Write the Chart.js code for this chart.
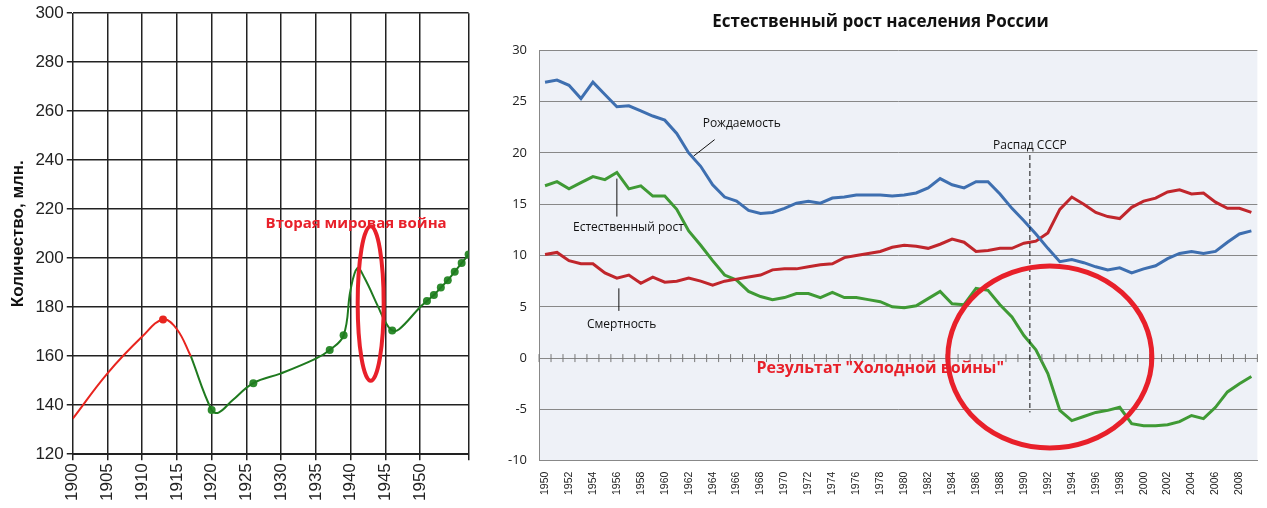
<!DOCTYPE html>
<html><head><meta charset="utf-8">
<script src="https://cdn.jsdelivr.net/npm/chart.js@4"></script>
<style>
body{margin:0;background:#fff;width:1267px;height:508px;overflow:hidden;position:relative;font-family:"Liberation Sans",Arial,sans-serif}
#popChart{position:absolute;left:0;top:0}
#growthChart{position:absolute;left:492px;top:0}
</style></head><body>
<canvas id="popChart" width="492" height="508"></canvas>
<canvas id="growthChart" width="775" height="508"></canvas>
<script>
// left chart: population, millions
const popRedYears = [1900, 1905, 1910, 1913, 1915, 1917];
const popRedValues = [134.5, 153, 168, 175, 171, 160];
const popGreenYears = [1917, 1920, 1921, 1923, 1926, 1930, 1935, 1937, 1939, 1940, 1941, 1942, 1944, 1945, 1946, 1947, 1950, 1951, 1952, 1953, 1954, 1955, 1956, 1957];
const popGreenValues = [160, 138, 137, 142, 149, 153, 159, 162.5, 168.5, 187, 196, 192, 180, 174, 170.5, 171, 180, 182.5, 185, 188, 191, 194.5, 198, 201.5];
const popRedDots = [1913];
const popGreenDots = [1920, 1926, 1937, 1939, 1946, 1951, 1952, 1953, 1954, 1955, 1956, 1957];

// right chart: natural growth of Russia, per 1000
const years = [];
for (let y = 1950; y <= 2009; y++) years.push(String(y));
const birthRate = [26.9, 27.1, 26.6, 25.3, 26.9, 25.7, 24.5, 24.6, 24.1, 23.6, 23.2, 21.9, 20.0, 18.7, 16.9, 15.7, 15.3, 14.4, 14.1, 14.2,
  14.6, 15.1, 15.3, 15.1, 15.6, 15.7, 15.9, 15.9, 15.9, 15.8, 15.9, 16.1, 16.6, 17.5, 16.9, 16.6, 17.2, 17.2, 16.0, 14.6,
  13.4, 12.1, 10.7, 9.4, 9.6, 9.3, 8.9, 8.6, 8.8, 8.3, 8.7, 9.0, 9.7, 10.2, 10.4, 10.2, 10.4, 11.3, 12.1, 12.4];
const deathRate = [10.1, 10.3, 9.5, 9.2, 9.2, 8.3, 7.8, 8.1, 7.3, 7.9, 7.4, 7.5, 7.8, 7.5, 7.1, 7.5, 7.7, 7.9, 8.1, 8.6,
  8.7, 8.7, 8.9, 9.1, 9.2, 9.8, 10.0, 10.2, 10.4, 10.8, 11.0, 10.9, 10.7, 11.1, 11.6, 11.3, 10.4, 10.5, 10.7, 10.7,
  11.2, 11.4, 12.2, 14.5, 15.7, 15.0, 14.2, 13.8, 13.6, 14.7, 15.3, 15.6, 16.2, 16.4, 16.0, 16.1, 15.2, 14.6, 14.6, 14.2];
const naturalGrowth = [16.8, 17.2, 16.5, 17.1, 17.7, 17.4, 18.1, 16.5, 16.8, 15.8, 15.8, 14.5, 12.4, 11.0, 9.5, 8.1, 7.6, 6.5, 6.0, 5.7,
  5.9, 6.3, 6.3, 5.9, 6.4, 5.9, 5.9, 5.7, 5.5, 5.0, 4.9, 5.1, 5.8, 6.5, 5.3, 5.2, 6.8, 6.6, 5.2, 4.0,
  2.2, 0.8, -1.5, -5.1, -6.1, -5.7, -5.3, -5.1, -4.8, -6.4, -6.6, -6.6, -6.5, -6.2, -5.6, -5.9, -4.8, -3.3, -2.5, -1.8];

const RED = '#e8202a';

const toXY = (xs, ys) => xs.map((x, i) => ({ x: x, y: ys[i] }));
const dotsFrom = (dots) => dots.map(x => {
  const g = popGreenYears.indexOf(x);
  return { x: x, y: g >= 0 ? popGreenValues[g] : popRedValues[popRedYears.indexOf(x)] };
});

const leftNotes = {
  id: 'leftNotes',
  afterDatasetsDraw(chart) {
    const { ctx, scales: { x, y } } = chart;
    ctx.save();
    ctx.fillStyle = RED;
    ctx.font = 'bold 15px "Open Sans", sans-serif';
    ctx.textAlign = 'center';
    ctx.fillText('Вторая мировая война', x.getPixelForValue(1940.8), y.getPixelForValue(212.5));
    ctx.strokeStyle = RED;
    ctx.lineWidth = 4;
    ctx.beginPath();
    const top = y.getPixelForValue(213), bot = y.getPixelForValue(150);
    ctx.ellipse(x.getPixelForValue(1942.9), (top + bot) / 2, 13, (bot - top) / 2, 0, 0, Math.PI * 2);
    ctx.stroke();
    ctx.restore();
  }
};

new Chart(document.getElementById('popChart'), {
  type: 'line',
  data: {
    datasets: [
      { data: toXY(popRedYears, popRedValues), borderColor: '#e8251f', borderWidth: 2, pointRadius: 0, tension: 0.4 },
      { data: toXY(popGreenYears, popGreenValues), borderColor: '#1f7a1f', borderWidth: 2, pointRadius: 0, tension: 0.4 },
      { data: dotsFrom(popRedDots), showLine: false, pointRadius: 4, pointBackgroundColor: '#e8251f', pointBorderWidth: 0 },
      { data: dotsFrom(popGreenDots), showLine: false, pointRadius: 4, pointBackgroundColor: '#2e8b2e', pointBorderWidth: 0 }
    ]
  },
  options: {
    responsive: false, animation: false,
    layout: { padding: { top: 6, right: 4, left: 4, bottom: 4 } },
    plugins: { legend: { display: false }, tooltip: { enabled: false } },
    scales: {
      x: {
        type: 'linear', min: 1900, max: 1957,
        ticks: { stepSize: 5, maxRotation: 90, minRotation: 90, color: '#222', font: { size: 17, family: 'Liberation Sans' },
          callback: v => v % 5 === 0 ? v : '' },
        grid: { color: '#222', lineWidth: 1.5, tickLength: 6 }, border: { color: '#222' }
      },
      y: {
        min: 120, max: 300,
        ticks: { stepSize: 20, color: '#222', font: { size: 17, family: 'Liberation Sans' } },
        grid: { color: '#222', lineWidth: 1.5, tickLength: 6 }, border: { color: '#222' },
        title: { display: true, text: 'Количество, млн.', color: '#111', font: { size: 17, weight: 'bold', family: 'Liberation Sans' } }
      }
    }
  },
  plugins: [leftNotes]
});

const rightNotes = {
  id: 'rightNotes',
  beforeDraw(chart) {
    const { ctx, chartArea: a } = chart;
    ctx.save();
    ctx.fillStyle = '#eef1f7';
    ctx.fillRect(a.left, a.top, a.right - a.left, a.bottom - a.top);
    ctx.restore();
  },
  afterDatasetsDraw(chart) {
    const { ctx, scales: { x, y } } = chart;
    const px = (i) => x.getPixelForValue(i);
    const yi = (s) => years.indexOf(s);
    ctx.save();
    // ticks on zero line
    ctx.strokeStyle = '#777';
    ctx.lineWidth = 1;
    for (let i = 0; i <= years.length; i++) {
      const xx = px(i) - (px(1) - px(0)) / 2;
      ctx.beginPath(); ctx.moveTo(xx, y.getPixelForValue(0) - 4); ctx.lineTo(xx, y.getPixelForValue(0) + 4); ctx.stroke();
    }
    // labels with leader lines
    ctx.fillStyle = '#111';
    ctx.font = '12px "Open Sans", sans-serif';
    ctx.strokeStyle = '#111';
    ctx.textAlign = 'left';
    ctx.fillText('Рождаемость', px(yi('1963')) + 2, y.getPixelForValue(22.5));
    ctx.beginPath(); ctx.moveTo(px(yi('1964')) + 2, y.getPixelForValue(21.3)); ctx.lineTo(px(yi('1962')) + 5, y.getPixelForValue(19.7)); ctx.stroke();
    ctx.fillText('Естественный рост', px(yi('1952')) + 4, y.getPixelForValue(12.4));
    ctx.beginPath(); ctx.moveTo(px(yi('1956')), y.getPixelForValue(17.5)); ctx.lineTo(px(yi('1956')), y.getPixelForValue(13.8)); ctx.stroke();
    ctx.fillText('Смертность', px(yi('1953')) + 6, y.getPixelForValue(2.9));
    ctx.beginPath(); ctx.moveTo(px(yi('1956')) + 2, y.getPixelForValue(6.8)); ctx.lineTo(px(yi('1956')) + 2, y.getPixelForValue(4.6)); ctx.stroke();
    // USSR collapse
    const xr = px(yi('1991')) - 6;
    ctx.setLineDash([5, 3]);
    ctx.beginPath(); ctx.moveTo(xr, y.getPixelForValue(19.8)); ctx.lineTo(xr, y.getPixelForValue(-5.3)); ctx.stroke();
    ctx.setLineDash([]);
    ctx.textAlign = 'center';
    ctx.fillText('Распад СССР', xr, y.getPixelForValue(20.4));
    // cold war circle and caption
    ctx.strokeStyle = RED;
    ctx.lineWidth = 5;
    ctx.beginPath();
    ctx.ellipse(px(yi('1992')) + 2, y.getPixelForValue(0.1), 102, 91, 0, 0, Math.PI * 2);
    ctx.stroke();
    ctx.fillStyle = RED;
    ctx.font = 'bold 16px "Open Sans", sans-serif';
    ctx.fillText('Результат "Холодной войны"', px(yi('1978')), y.getPixelForValue(-1.5));
    ctx.restore();
  }
};

new Chart(document.getElementById('growthChart'), {
  type: 'line',
  data: {
    labels: years,
    datasets: [
      { data: birthRate, borderColor: '#3e6fb0', borderWidth: 3, pointRadius: 0, tension: 0 },
      { data: deathRate, borderColor: '#c0262c', borderWidth: 3, pointRadius: 0, tension: 0 },
      { data: naturalGrowth, borderColor: '#3f9a35', borderWidth: 3, pointRadius: 0, tension: 0 }
    ]
  },
  options: {
    responsive: false, animation: false,
    layout: { padding: { top: 0, right: 2, left: 4, bottom: 10 } },
    plugins: {
      legend: { display: false }, tooltip: { enabled: false },
      title: { display: true, text: 'Естественный рост населения России', color: '#111',
        font: { size: 17, weight: 'bold', family: 'Open Sans' }, padding: { top: 12, bottom: 18 } }
    },
    scales: {
      x: {
        offset: true,
        ticks: { autoSkip: false, maxRotation: 90, minRotation: 90, color: '#222', font: { size: 10.5, family: 'Liberation Sans' },
          callback: (v, i) => i % 2 === 0 ? years[i] : '' },
        grid: { display: false }, border: { color: '#888' }
      },
      y: {
        min: -10, max: 30,
        ticks: { stepSize: 5, color: '#222', font: { size: 13, family: 'Open Sans' }, padding: 12 },
        grid: { color: '#888', lineWidth: 1, drawTicks: false },
        border: { color: '#888' }
      }
    }
  },
  plugins: [rightNotes]
});
</script>
</body></html>
